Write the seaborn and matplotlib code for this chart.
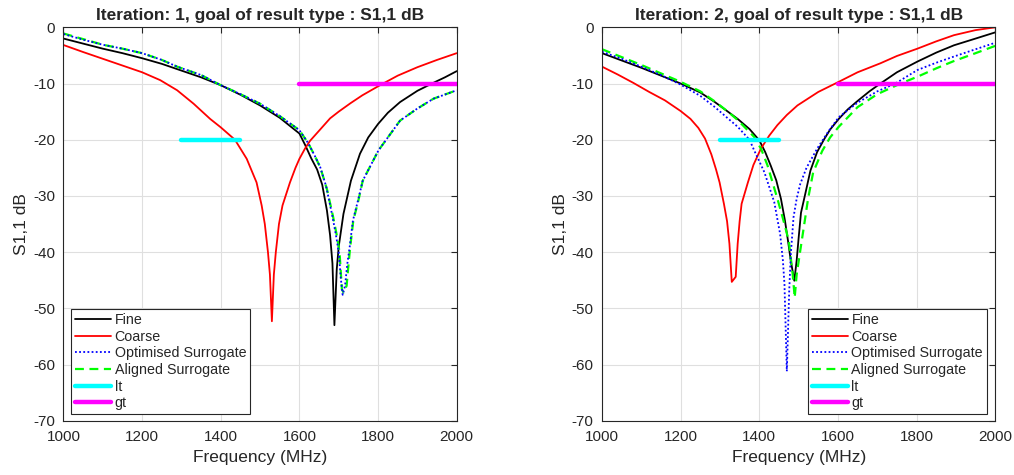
import matplotlib
matplotlib.use("Agg")
import matplotlib.pyplot as plt
import seaborn as sns

# ---------------- Data ----------------
# Iteration 1
it1_fine_f = [1000, 1050, 1100, 1150, 1200, 1250, 1300, 1350, 1400, 1450, 1500, 1550, 1600, 1615, 1630,
              1645, 1658, 1670, 1678, 1684, 1689, 1695, 1700, 1712, 1731, 1754, 1775, 1800, 1825, 1856,
              1900, 1937, 1970, 2000]
it1_fine_db = [-2.0, -2.9, -3.8, -4.6, -5.5, -6.5, -7.7, -8.9, -10.3, -12.0, -13.9, -16.1, -18.9, -21.0, -23.3,
               -25.3, -28.0, -32.6, -37.0, -42.0, -53.0, -43.0, -39.0, -33.2, -27.3, -22.5, -19.6, -17.2, -15.2, -13.3,
               -11.3, -10.0, -8.9, -7.8]

it1_coarse_f = [1000, 1050, 1100, 1150, 1200, 1246, 1289, 1331, 1373, 1400, 1436, 1466, 1491, 1504,
                1512, 1520, 1525, 1530, 1535, 1540, 1548, 1557, 1576, 1590, 1600, 1614, 1627, 1650, 1678,
                1700, 1730, 1760, 1805, 1850, 1900, 1950, 2000]
it1_coarse_db = [-3.15, -4.4, -5.6, -6.8, -8.0, -9.4, -11.2, -13.6, -16.3, -17.8, -20.0, -23.4, -27.6, -31.7,
                 -35.0, -40.0, -44.0, -52.3, -44.0, -40.0, -35.0, -31.7, -27.6, -25.0, -23.4, -21.6, -20.2, -18.4, -16.2,
                 -15.0, -13.5, -12.1, -10.3, -8.6, -7.1, -5.8, -4.6]

it1_opt_f = [1000, 1050, 1100, 1150, 1200, 1250, 1289, 1350, 1400, 1450, 1500, 1550, 1600, 1623, 1640, 1653,
             1668, 1683, 1693, 1700, 1705, 1710, 1716, 1722, 1728, 1736, 1749, 1761, 1801, 1856, 1899, 1941, 2000]
it1_opt_db = [-1.2, -2.2, -3.1, -3.8, -4.6, -5.8, -7.0, -8.5, -10.3, -11.9, -13.6, -15.8, -18.3, -20.7, -23.0, -24.9,
              -28.3, -33.3, -37.0, -40.0, -44.5, -47.6, -46.0, -42.0, -39.0, -34.4, -30.8, -27.3, -21.9, -16.6, -14.5,
              -12.7, -11.2]

it1_ali_f = [1000, 1050, 1100, 1150, 1200, 1250, 1289, 1350, 1400, 1450, 1500, 1550, 1600, 1623, 1640, 1653,
             1670, 1685, 1695, 1702, 1708, 1712, 1720, 1725, 1729, 1737, 1750, 1761, 1801, 1856, 1899, 1941, 2000]
it1_ali_db = [-1.1, -2.1, -3.1, -3.8, -4.6, -5.8, -7.0, -8.5, -10.3, -11.9, -13.6, -15.8, -18.3, -20.7, -23.0, -24.9,
              -28.8, -33.5, -37.0, -40.0, -46.6, -47.2, -46.0, -42.1, -39.2, -34.4, -30.8, -27.3, -21.9, -16.6, -14.5,
              -12.7, -11.2]

# Iteration 2
it2_fine_f = [1000, 1050, 1100, 1150, 1200, 1250, 1287, 1320, 1345, 1375, 1400, 1415, 1429, 1443, 1455,
              1465, 1473, 1480, 1489, 1495, 1500, 1506, 1517, 1530, 1547, 1565, 1580, 1602, 1625, 1650,
              1680, 1708, 1750, 1802, 1850, 1895, 1950, 2000]
it2_fine_db = [-4.6, -5.9, -7.2, -8.6, -10.0, -11.6, -13.3, -15.0, -16.3, -18.1, -20.1, -22.2, -24.6, -27.2, -30.5,
               -34.3, -38.0, -41.5, -45.1, -41.5, -37.5, -33.0, -29.6, -25.5, -22.2, -19.9, -18.2, -16.3, -14.6, -13.1,
               -11.4, -10.0, -8.0, -6.1, -4.5, -3.2, -2.0, -0.9]

it2_coarse_f = [1000, 1040, 1080, 1120, 1160, 1200, 1225, 1245, 1262, 1278, 1290, 1299, 1310, 1318, 1324, 1330,
                1340, 1345, 1350, 1355, 1371, 1385, 1404, 1425, 1446, 1470, 1497, 1550, 1602, 1650, 1708,
                1750, 1802, 1850, 1895, 1950, 2000]
it2_coarse_db = [-7.0, -8.4, -9.9, -11.5, -13.0, -14.9, -16.3, -17.9, -19.8, -22.6, -25.3, -27.6, -31.4, -34.5, -38.5,
                 -45.3, -44.4, -38.5, -34.5, -31.4, -27.6, -24.5, -21.6, -19.3, -17.4, -15.6, -13.9, -11.5, -9.7, -8.0,
                 -6.4, -5.1, -3.8, -2.5, -1.4, -0.5, 0.0]

it2_opt_f = [1000, 1050, 1100, 1150, 1200, 1250, 1287, 1320, 1345, 1375, 1387, 1413, 1438, 1453, 1460, 1464,
             1470, 1476, 1480, 1487, 1495, 1504, 1520, 1547, 1575, 1602, 1650, 1700, 1746, 1802, 1850, 1895,
             1950, 2000]
it2_opt_db = [-4.35, -5.6, -7.0, -8.5, -10.2, -12.2, -14.2, -16.2, -17.7, -20.0, -21.9, -25.8, -31.1, -36.8, -41.5,
              -45.7, -61.2, -47.0, -40.5, -33.8, -30.5, -27.9, -25.0, -21.6, -18.6, -16.0, -13.4, -11.4, -10.0, -7.6,
              -6.3, -5.2, -3.9, -2.75]

it2_ali_f = [1000, 1050, 1100, 1150, 1200, 1250, 1287, 1320, 1345, 1387, 1405, 1421, 1446, 1460, 1475, 1485,
             1490, 1495, 1504, 1517, 1524, 1537, 1560, 1580, 1602, 1650, 1700, 1759, 1802, 1850, 1895, 1950, 2000]
it2_ali_db = [-3.9, -5.3, -6.7, -8.2, -9.7, -11.4, -13.2, -15.0, -16.5, -19.5, -21.7, -24.6, -30.5, -34.0, -38.0,
              -44.0, -48.1, -44.0, -39.8, -33.8, -30.5, -25.8, -22.0, -19.6, -17.7, -14.2, -11.9, -10.0, -8.8, -7.3,
              -6.0, -4.6, -3.3]

# goal lines (same for both iterations)
lt_f = [1300, 1450]
lt_db = [-20, -20]
gt_f = [1600, 2000]
gt_db = [-10, -10]

titles = ["Iteration: 1, goal of result type : S1,1 dB",
          "Iteration: 2, goal of result type : S1,1 dB"]
x_ticks = [1000, 1200, 1400, 1600, 1800, 2000]
y_ticks = [0, -10, -20, -30, -40, -50, -60, -70]
x_label = "Frequency (MHz)"
y_label = "S1,1 dB"
legend_order = ["Fine", "Coarse", "Optimised Surrogate", "Aligned Surrogate", "lt", "gt"]

# ---------------- Style ----------------
sns.set_theme(style="white")
plt.rcParams["font.family"] = ["Liberation Sans", "DejaVu Sans"]
plt.rcParams["axes.unicode_minus"] = False
plt.rcParams["axes.edgecolor"] = "#262626"
plt.rcParams["xtick.color"] = "#262626"
plt.rcParams["ytick.color"] = "#262626"

fig = plt.figure(figsize=(10.14, 4.75), dpi=100)
ax1 = fig.add_axes([0.0626, 0.1143, 0.3878, 0.8282])
ax2 = fig.add_axes([0.5937, 0.1143, 0.3878, 0.8282])

panels = [
    (ax1, (it1_fine_f, it1_fine_db), (it1_coarse_f, it1_coarse_db), (it1_opt_f, it1_opt_db),
     (it1_ali_f, it1_ali_db), "lower left", (0.019, 0.016)),
    (ax2, (it2_fine_f, it2_fine_db), (it2_coarse_f, it2_coarse_db), (it2_opt_f, it2_opt_db),
     (it2_ali_f, it2_ali_db), "lower right", (0.98, 0.016)),
]

for i, (ax, fine, coarse, opt, ali, loc, anchor) in enumerate(panels):
    sns.lineplot(x=fine[0], y=fine[1], ax=ax, color="black", linewidth=1.3,
                 label="Fine", sort=False, estimator=None)
    sns.lineplot(x=coarse[0], y=coarse[1], ax=ax, color="#ff0000", linewidth=1.3,
                 label="Coarse", sort=False, estimator=None)
    sns.lineplot(x=ali[0], y=ali[1], ax=ax, color="#00ff00", linewidth=1.6,
                 linestyle=(0, (4, 2.5)), label="Aligned Surrogate", sort=False, estimator=None)
    sns.lineplot(x=opt[0], y=opt[1], ax=ax, color="#0000ff", linewidth=1.3,
                 linestyle=(0, (1, 1.3)), label="Optimised Surrogate", sort=False, estimator=None)
    sns.lineplot(x=lt_f, y=lt_db, ax=ax, color="#00ffff", linewidth=3.2,
                 label="lt", sort=False, estimator=None)
    sns.lineplot(x=gt_f, y=gt_db, ax=ax, color="#ff00ff", linewidth=3.2,
                 label="gt", sort=False, estimator=None)

    ax.set_xlim(1000, 2000)
    ax.set_ylim(-70, 0)
    ax.set_xticks(x_ticks)
    ax.set_yticks(y_ticks)
    ax.grid(True, color="#dfdfdf", linewidth=0.8)
    ax.set_axisbelow(True)
    ax.tick_params(direction="in", length=4, width=0.8, top=True, right=True,
                   labelsize=11, colors="#262626")
    ax.tick_params(axis="x", pad=7)
    ax.tick_params(axis="y", pad=6)
    for sp in ax.spines.values():
        sp.set_linewidth(0.8)
        sp.set_color("#262626")
    ax.set_xlabel(x_label, fontsize=12.5, color="#262626", labelpad=4)
    ax.set_ylabel(y_label, fontsize=12.5, color="#262626", labelpad=3)
    ax.set_title(titles[i], fontsize=12.5, fontweight="bold", pad=5)

    handles, labels = ax.get_legend_handles_labels()
    hmap = dict(zip(labels, handles))
    leg = ax.legend([hmap[k] for k in legend_order], legend_order, loc=loc, bbox_to_anchor=anchor,
                    borderaxespad=0, fontsize=10.3, frameon=True, fancybox=False,
                    framealpha=1, edgecolor="#262626", handlelength=2.5,
                    handletextpad=0.25, labelspacing=0.18, borderpad=0.3)
    leg.get_frame().set_linewidth(0.8)

fig.savefig("out.png", dpi=100)
